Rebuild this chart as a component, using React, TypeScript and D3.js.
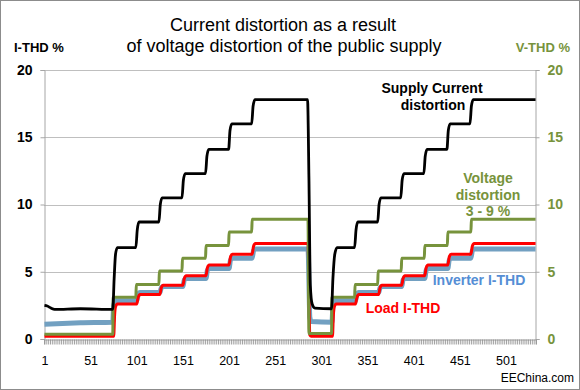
import { useEffect, useRef } from 'react';
import * as d3 from 'd3';

// samples on the category axis (1..533)
const pointCount = 533;
const xTickLabels = [1, 51, 101, 151, 201, 251, 301, 351, 401, 451, 501];
const yTicks = [0, 5, 10, 15, 20];

// [sample, %] breakpoints
const supplyCurrent: [number, number][] = [
  [1, 2.5], [4, 2.45], [8, 2.3], [12, 2.2], [40, 2.25], [75, 2.2], [76.5, 4.5], [78, 6.3], [80, 6.8],
  [100, 6.8], [101.5, 8.1], [103.5, 8.7],
  [125, 8.7], [126.5, 10.0], [128.5, 10.5],
  [150, 10.5], [151.5, 11.8], [153.5, 12.3],
  [175.5, 12.3], [177, 13.6], [179, 14.1],
  [200.5, 14.1], [202, 15.5], [204, 16.0],
  [225.5, 16.0], [227, 17.3], [229, 17.8],
  [286, 17.8], [287.5, 12], [289, 4], [291, 2.6], [294, 2.3], [312, 2.25], [313.5, 4.5], [315.5, 6.3], [318, 6.8],
  [337, 6.8], [338.5, 8.1], [340.5, 8.7],
  [362, 8.7], [363.5, 10.0], [365.5, 10.5],
  [387, 10.5], [388.5, 11.8], [390.5, 12.3],
  [412, 12.3], [413.5, 13.6], [415.5, 14.1],
  [437, 14.1], [438.5, 15.5], [440.5, 16.0],
  [462, 16.0], [463.5, 17.3], [465.5, 17.8],
  [533, 17.8],
];

const voltageTHD: [number, number][] = [
  [1, 0.35], [75, 0.35], [75.5, 3.1], [100, 3.1], [100.5, 4.05], [125, 4.05], [125.5, 5.05],
  [150, 5.05], [150.5, 6.0], [175.5, 6.0], [176, 6.95], [200.5, 6.95], [201, 7.95], [225.5, 7.95],
  [226, 8.9], [286.5, 8.9], [287.5, 0.4], [312, 0.4], [312.5, 3.1], [337, 3.1], [337.5, 4.05],
  [362, 4.05], [362.5, 5.05], [387.5, 5.05], [388, 6.0], [412.5, 6.0], [413, 6.95], [437.5, 6.95],
  [438, 7.95], [463, 7.95], [463.5, 8.9], [533, 8.9],
];

const loadTHD: [number, number][] = [
  [1, 0.2], [76, 0.2], [77, 1.8], [78, 2.4], [80, 2.6], [101, 2.6], [102.5, 3.1], [104.5, 3.3],
  [126, 3.3], [127.5, 3.8], [129.5, 4.0], [151, 4.0], [152.5, 4.5], [154.5, 4.7], [176, 4.7],
  [177.5, 5.3], [179.5, 5.5], [201, 5.5], [202.5, 6.1], [204.5, 6.3], [226, 6.3], [227.5, 6.9],
  [229.5, 7.1], [286.5, 7.1], [288.5, 0.3], [290, 0.2], [313, 0.2], [314, 1.8], [315, 2.4], [317, 2.6],
  [338, 2.6], [339.5, 3.1], [341.5, 3.3], [363, 3.3], [364.5, 3.8], [366.5, 4.0], [388, 4.0],
  [389.5, 4.5], [391.5, 4.7], [413, 4.7], [414.5, 5.3], [416.5, 5.5], [438, 5.5], [439.5, 6.1],
  [441.5, 6.3], [463, 6.3], [464.5, 6.9], [466.5, 7.1], [533, 7.1],
];

const inverterTHD: [number, number][] = [
  [1, 1.1], [40, 1.2], [75, 1.25], [76, 2.5], [78, 2.85], [101, 2.85], [102.5, 3.3], [104.5, 3.45],
  [126, 3.45], [127.5, 3.8], [129.5, 3.9], [151, 3.9], [152.5, 4.4], [154.5, 4.5], [176, 4.5],
  [177.5, 5.1], [179.5, 5.25], [201, 5.25], [202.5, 5.85], [204.5, 6.0], [226, 6.0], [227.5, 6.55],
  [229.5, 6.7], [286.5, 6.7], [288.5, 1.6], [290, 1.3], [312.5, 1.25], [313.5, 2.5], [315.5, 2.85],
  [338, 2.85], [339.5, 3.3], [341.5, 3.45], [363, 3.45], [364.5, 3.8], [366.5, 3.9], [388, 3.9],
  [389.5, 4.4], [391.5, 4.5], [413, 4.5], [414.5, 5.1], [416.5, 5.25], [438, 5.25], [439.5, 5.85],
  [441.5, 6.0], [463, 6.0], [464.5, 6.55], [466.5, 6.7], [533, 6.7],
];

const GREEN = '#77933c';
const FONT = '"Liberation Sans", Arial, sans-serif';

const App = () => {
  const svgRef = useRef<SVGSVGElement>(null);

  useEffect(() => {
    const svg = d3.select(svgRef.current);
    svg.selectAll('*').remove();

    const width = 580;
    const height = 390;
    const left = 44, right = 536, top = 70, bottom = 339;

    const x = d3.scaleLinear().domain([0.5, pointCount + 0.5]).range([left, right]);
    const yL = d3.scaleLinear().domain([0, 20]).range([bottom, top]);
    const yR = d3.scaleLinear().domain([0, 20]).range([bottom, top]);

    svg.append('rect')
      .attr('x', 0.5).attr('y', 0.5)
      .attr('width', width - 1).attr('height', height - 1)
      .attr('fill', '#fff').attr('stroke', '#8c8c8c');

    // gridlines
    svg.append('g')
      .selectAll('line')
      .data(yTicks.filter(d => d > 0))
      .enter()
      .append('line')
      .attr('x1', left).attr('x2', right)
      .attr('y1', d => Math.round(yL(d)) + 0.5)
      .attr('y2', d => Math.round(yL(d)) + 0.5)
      .attr('stroke', '#bfbfbf');

    // left axis
    const gl = svg.append('g')
      .attr('transform', `translate(${left + 0.5},0)`)
      .call(d3.axisLeft(yL).tickValues(yTicks).tickSize(4).tickPadding(8));
    gl.select('.domain').attr('stroke', '#a6a6a6');
    gl.selectAll('.tick line').attr('stroke', '#a6a6a6');
    gl.selectAll('.tick text')
      .attr('fill', '#000').attr('font-family', FONT).attr('font-size', 14).attr('font-weight', 'bold');

    // right axis
    const gr = svg.append('g')
      .attr('transform', `translate(${right - 0.5},0)`)
      .call(d3.axisRight(yR).tickValues(yTicks).tickSize(4).tickPadding(8));
    gr.select('.domain').attr('stroke', '#a6a6a6');
    gr.selectAll('.tick line').attr('stroke', '#a6a6a6');
    gr.selectAll('.tick text')
      .attr('fill', GREEN).attr('font-family', FONT).attr('font-size', 14).attr('font-weight', 'bold');

    // bottom axis: dense ticks + labels
    const gb = svg.append('g').attr('transform', `translate(0,${bottom + 0.5})`);
    gb.append('g')
      .call(d3.axisBottom(x).tickValues(d3.range(1, pointCount + 1, 2)).tickSize(5).tickFormat(() => ''))
      .call(g => g.select('.domain').attr('stroke', '#a6a6a6'))
      .call(g => g.selectAll('.tick line').attr('stroke', '#8c8c8c').attr('stroke-width', 0.8));
    gb.append('g')
      .call(d3.axisBottom(x).tickValues(xTickLabels).tickSize(0).tickPadding(17))
      .call(g => g.select('.domain').remove())
      .call(g => g.selectAll('.tick text')
        .attr('fill', '#000').attr('font-family', FONT).attr('font-size', 12.5));

    // series
    const lineL = d3.line<[number, number]>()
      .x(d => x(d[0])).y(d => yL(d[1])).curve(d3.curveMonotoneX);
    const lineR = d3.line<[number, number]>()
      .x(d => x(d[0])).y(d => yR(d[1])).curve(d3.curveMonotoneX);

    const plot = svg.append('g').attr('fill', 'none').attr('stroke-linejoin', 'round');
    plot.append('path').attr('d', lineL(inverterTHD)).attr('stroke', '#72a0c1').attr('stroke-width', 5);
    plot.append('path').attr('d', lineL(loadTHD)).attr('stroke', '#ff0000').attr('stroke-width', 3);
    plot.append('path').attr('d', lineR(voltageTHD)).attr('stroke', GREEN).attr('stroke-width', 3);
    plot.append('path').attr('d', lineL(supplyCurrent)).attr('stroke', '#000').attr('stroke-width', 2.8);

    // texts
    const t = (txt: string, tx: number, ty: number, opts: { size?: number; bold?: boolean; fill?: string; anchor?: string } = {}) =>
      svg.append('text')
        .attr('x', tx).attr('y', ty)
        .attr('font-family', FONT)
        .attr('font-size', opts.size ?? 14)
        .attr('font-weight', opts.bold ? 'bold' : 'normal')
        .attr('fill', opts.fill ?? '#000')
        .attr('text-anchor', opts.anchor ?? 'middle')
        .text(txt);

    t('Current distortion as a result', 283, 31, { size: 18 });
    t('of voltage distortion of the public supply', 284, 52, { size: 18 });
    t('I-THD %', 14, 52, { size: 13, bold: true, anchor: 'start' });
    t('V-THD %', 570, 52, { size: 13, bold: true, fill: GREEN, anchor: 'end' });

    t('Supply Current', 432, 93, { bold: true });
    t('distortion', 433, 110, { bold: true });
    t('Voltage', 488, 183, { bold: true, fill: GREEN });
    t('distortion', 488, 200, { bold: true, fill: GREEN });
    t('3 - 9 %', 488, 216, { bold: true, fill: GREEN });
    t('Inverter I-THD', 479, 285, { bold: true, fill: '#558ed5' });
    t('Load I-THD', 403, 313, { bold: true, fill: '#ff0000' });

    t('EEChina.com', 574, 382, { size: 12, anchor: 'end' });
  }, []);

  return (
    <svg ref={svgRef} width={580} height={390}
      style={{ position: 'absolute', left: 0, top: 0, background: '#fff' }} />
  );
};

export default App;
